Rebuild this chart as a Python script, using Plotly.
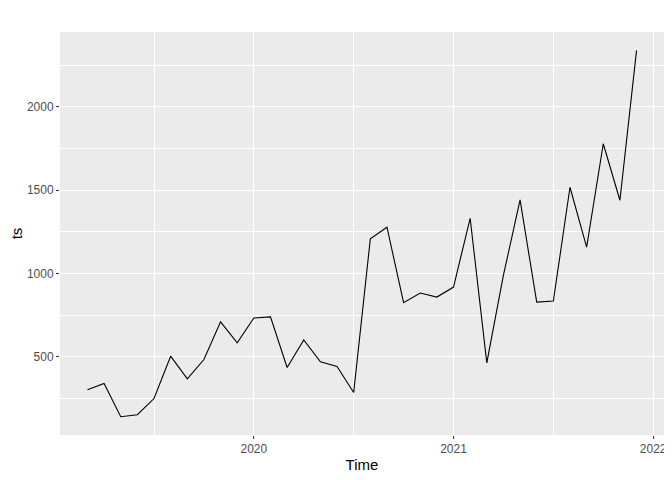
import plotly.graph_objects as go

start_year = 2019
start_month = 3  # March 2019
values = [302, 340, 141, 153, 250, 504, 368, 484, 710, 584,
          733, 740, 436, 602, 470, 442, 286, 1208, 1278, 825, 883, 859,
          919, 1332, 464, 990, 1442, 829, 835, 1518, 1159, 1779, 1440, 2340]
x_ticks = [2020, 2021, 2022]
y_ticks = [500, 1000, 1500, 2000]

times = [start_year + (start_month - 1 + i) / 12 for i in range(len(values))]

fig = go.Figure()
fig.add_trace(go.Scatter(x=times, y=values, mode="lines",
                         line=dict(color="black", width=1.1),
                         hoverinfo="skip", showlegend=False))

tr = times[-1] - times[0]
vr = max(values) - min(values)
font_fam = "Liberation Sans, Arial, sans-serif"

# page body has an 8px margin, so the figure is sized/offset accordingly
fig.update_layout(
    width=664, height=472,
    margin=dict(l=52, r=8, t=24, b=45, autoexpand=False),
    paper_bgcolor="white",
    plot_bgcolor="#EBEBEB",
    font=dict(family=font_fam, color="#4D4D4D", size=12),
    xaxis=dict(
        automargin=False,
        range=[times[0] - 0.05 * tr, times[-1] + 0.05 * tr],
        tickvals=x_ticks, ticktext=[str(v) for v in x_ticks],
        showgrid=True, gridcolor="white", gridwidth=1.1,
        minor=dict(tickvals=[2019.5, 2020.5, 2021.5], showgrid=True,
                   gridcolor="white", gridwidth=0.5, ticks=""),
        ticks="outside", ticklen=3, tickcolor="#333333", tickwidth=1,
        tickfont=dict(size=12, color="#4D4D4D"),
        zeroline=False, showline=False,
        title=dict(text="Time", font=dict(size=15, color="black"), standoff=4),
    ),
    yaxis=dict(
        automargin=False,
        range=[min(values) - 0.05 * vr, max(values) + 0.05 * vr],
        tickvals=y_ticks, ticktext=[str(v) for v in y_ticks],
        showgrid=True, gridcolor="white", gridwidth=1.1,
        minor=dict(tickvals=[250, 750, 1250, 1750, 2250], showgrid=True,
                   gridcolor="white", gridwidth=0.5, ticks=""),
        ticks="outside", ticklen=3, tickcolor="#333333", tickwidth=1,
        tickfont=dict(size=12, color="#4D4D4D"),
        zeroline=False, showline=False,
        title=dict(text="ts", font=dict(size=15, color="black"), standoff=6),
    ),
)

fig.write_html("out.html")
